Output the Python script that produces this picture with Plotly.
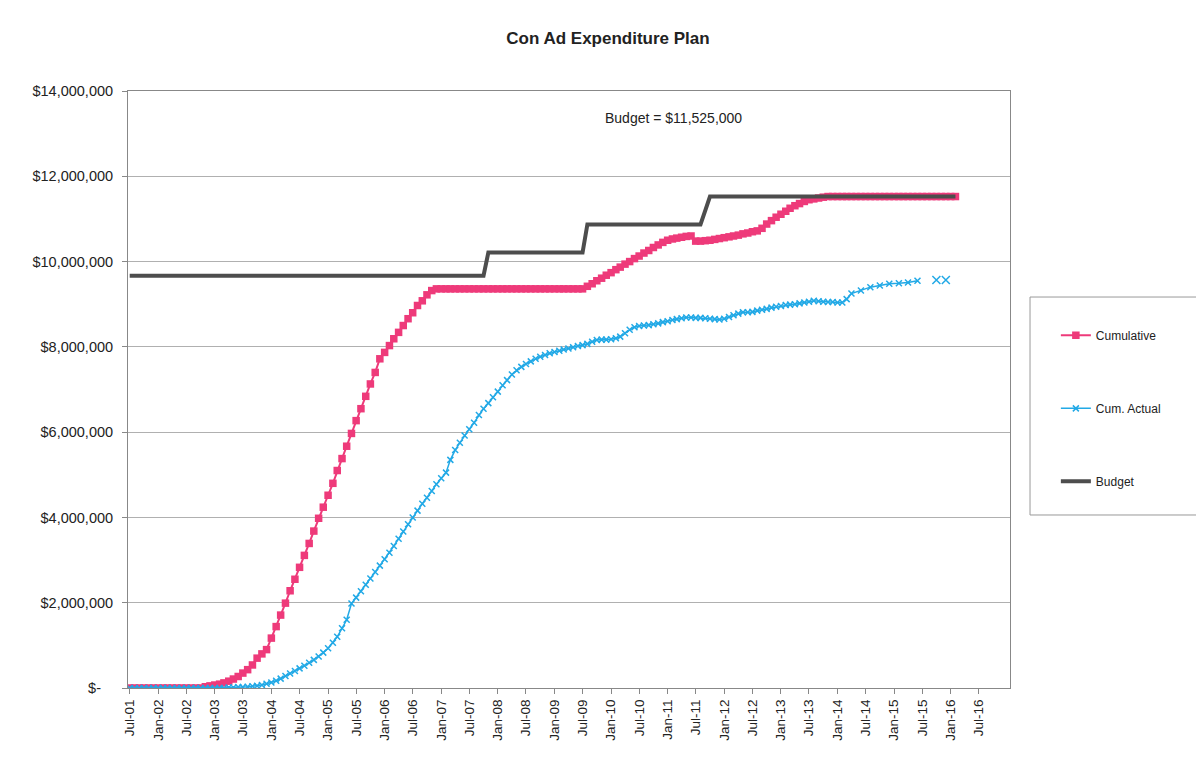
import plotly.graph_objects as go
import pandas as pd

# monthly values in $ millions, starting Jul-01 (rows = Jul..Jun years)
cumulative = [
    0, 0, 0, 0, 0, 0, 0, 0, 0, 0, 0, 0,
    0, 0, 0, 0, 0.03, 0.05, 0.07, 0.09, 0.12, 0.16, 0.21, 0.27,
    0.35, 0.43, 0.54, 0.70, 0.80, 0.90, 1.17, 1.44, 1.71, 1.99, 2.28, 2.55,
    2.83, 3.11, 3.39, 3.68, 3.98, 4.24, 4.52, 4.80, 5.10, 5.38, 5.67, 5.97,
    6.27, 6.55, 6.84, 7.13, 7.40, 7.72, 7.87, 8.03, 8.19, 8.34, 8.50, 8.66,
    8.80, 8.97, 9.08, 9.22, 9.32, 9.36, 9.36, 9.36, 9.36, 9.36, 9.36, 9.36,
    9.36, 9.36, 9.36, 9.36, 9.36, 9.36, 9.36, 9.36, 9.36, 9.36, 9.36, 9.36,
    9.36, 9.36, 9.36, 9.36, 9.36, 9.36, 9.36, 9.36, 9.36, 9.36, 9.36, 9.36,
    9.36, 9.42, 9.48, 9.55, 9.61, 9.68, 9.74, 9.81, 9.87, 9.94, 10.00, 10.07,
    10.13, 10.20, 10.26, 10.33, 10.39, 10.45, 10.50, 10.53, 10.55, 10.57, 10.59, 10.60,
    10.48, 10.48, 10.49, 10.50, 10.52, 10.54, 10.56, 10.58, 10.60, 10.62, 10.65, 10.67,
    10.70, 10.72, 10.78, 10.88, 10.96, 11.04, 11.11, 11.18, 11.25, 11.31, 11.36, 11.41,
    11.45, 11.47, 11.49, 11.51, 11.525, 11.525, 11.525, 11.525, 11.525, 11.525, 11.525, 11.525,
    11.525, 11.525, 11.525, 11.525, 11.525, 11.525, 11.525, 11.525, 11.525, 11.525, 11.525, 11.525,
    11.525, 11.525, 11.525, 11.525, 11.525, 11.525, 11.525, 11.525,
]

cum_actual = [
    0, 0, 0, 0, 0, 0, 0, 0, 0, 0, 0, 0,
    0, 0, 0, 0, 0, 0, 0, 0, 0, 0.01, 0.01, 0.02,
    0.02, 0.03, 0.04, 0.05, 0.07, 0.10, 0.13, 0.17, 0.22, 0.28, 0.34, 0.40,
    0.46, 0.52, 0.59, 0.66, 0.74, 0.83, 0.93, 1.06, 1.20, 1.40, 1.60, 1.98,
    2.12, 2.27, 2.42, 2.57, 2.72, 2.87, 3.02, 3.17, 3.33, 3.50, 3.67, 3.84,
    4.00, 4.16, 4.32, 4.46, 4.62, 4.78, 4.92, 5.05, 5.35, 5.58, 5.75, 5.92,
    6.07, 6.22, 6.40, 6.55, 6.68, 6.82, 6.95, 7.10, 7.22, 7.35, 7.45, 7.53,
    7.60, 7.66, 7.72, 7.77, 7.81, 7.85, 7.88, 7.91, 7.94, 7.96, 7.99, 8.02,
    8.04, 8.07, 8.12, 8.16, 8.17, 8.17, 8.18, 8.20, 8.24, 8.32, 8.40, 8.46,
    8.49, 8.50, 8.51, 8.53, 8.55, 8.58, 8.60, 8.63, 8.65, 8.67, 8.69, 8.69,
    8.68, 8.68, 8.67, 8.66, 8.65, 8.64, 8.66, 8.70, 8.74, 8.78, 8.81, 8.81,
    8.82, 8.85, 8.87, 8.89, 8.92, 8.94, 8.96, 8.98, 8.99, 9.00, 9.02, 9.04,
    9.06, 9.08, 9.07, 9.06, 9.05, 9.05, 9.04, 9.04, 9.12, 9.25, None, 9.32,
    None, 9.40, None, 9.44, None, 9.48, None, 9.49, None, 9.51, None, 9.55,
]

# last two actual points, plotted without a connecting line
actual_tail_dates = ["2015-10-01", "2015-12-01"]
actual_tail = [9.57, 9.57]

budget_dates = ["2001-07-01", "2007-10-01", "2007-11-01", "2009-07-01", "2009-08-01",
                "2011-08-01", "2011-09-01", "2011-10-01", "2016-02-01"]
budget = [9.67, 9.67, 10.21, 10.21, 10.87, 10.87, 11.20, 11.525, 11.525]

y_ticks = [0, 2, 4, 6, 8, 10, 12, 14]
y_labels = ["$-\u00a0\u00a0\u00a0", "$2,000,000", "$4,000,000", "$6,000,000", "$8,000,000",
            "$10,000,000", "$12,000,000", "$14,000,000"]

start = "2001-07-01"
cum_dates = pd.date_range(start, periods=len(cumulative), freq="MS")
act_dates = pd.date_range(start, periods=len(cum_actual), freq="MS")
x_ticks = pd.date_range(start, "2016-07-01", freq="6MS")

FONT = "Liberation Sans, Arial, sans-serif"
PINK = "#EE3A7A"
BLUE = "#22A9E6"
GRAY = "#4d4d4d"

fig = go.Figure()
fig.add_trace(go.Scatter(
    x=cum_dates, y=cumulative, name="Cumulative", mode="lines+markers",
    line=dict(color=PINK, width=2),
    marker=dict(symbol="square", size=7.5, color=PINK),
    legendgroup="a", legendrank=1,
))
fig.add_trace(go.Scatter(
    x=act_dates, y=cum_actual, name="Cum. Actual", mode="lines+markers",
    connectgaps=True,
    line=dict(color=BLUE, width=1.5),
    marker=dict(symbol="x-thin", size=6, color=BLUE, line=dict(color=BLUE, width=1.5)),
    legendgroup="b", legendrank=2,
))
fig.add_trace(go.Scatter(
    x=actual_tail_dates, y=actual_tail, mode="markers", showlegend=False,
    marker=dict(symbol="x-thin", size=8, color=BLUE, line=dict(color=BLUE, width=1.5)),
))
fig.add_trace(go.Scatter(
    x=budget_dates, y=budget, name="Budget", mode="lines",
    line=dict(color=GRAY, width=4),
    legendgroup="c", legendrank=3,
))

fig.update_layout(
    width=1204, height=761,
    margin=dict(l=120, r=202, t=83, b=81),
    paper_bgcolor="white", plot_bgcolor="white",
    font=dict(family=FONT, color="#222222"),
    title=dict(text="<b>Con Ad Expenditure Plan</b>", x=600 / 1204, xanchor="center",
               y=1 - 30 / 761, yanchor="middle", font=dict(size=17, color="#222222")),
    showlegend=True,
    legend=dict(x=1.052, xanchor="left", y=0.615, yanchor="top",
                traceorder="grouped", tracegroupgap=54,
                font=dict(size=12), bgcolor="rgba(0,0,0,0)"),
    annotations=[dict(text="Budget = $11,525,000", x=0.618, y=0.9715,
                      xref="paper", yref="paper", showarrow=False,
                      font=dict(size=14, color="#222222"))],
    shapes=[dict(type="rect", xref="paper", yref="paper",
                 x0=1.0227, x1=1.212, y0=0.2898, y1=0.6549,
                 line=dict(color="#999999", width=1), fillcolor="rgba(0,0,0,0)")],
)

fig.update_xaxes(
    type="date", range=["2001-06-20", "2017-01-18"],
    tickvals=x_ticks, tickformat="%b-%y", tickangle=-90,
    tickfont=dict(size=13.5), ticks="outside", ticklen=5, tickcolor="#888888",
    showline=True, linecolor="#888888", linewidth=1, mirror=True,
    showgrid=False,
)
fig.update_yaxes(
    range=[0, 14], tickvals=y_ticks, ticktext=y_labels,
    tickfont=dict(size=14.5), ticks="outside", ticklen=5, tickcolor="#888888",
    ticklabelstandoff=6,
    showline=True, linecolor="#888888", linewidth=1, mirror=True,
    showgrid=True, gridcolor="#b0b0b0", gridwidth=1, zeroline=False,
)

fig.write_html("out.html")
